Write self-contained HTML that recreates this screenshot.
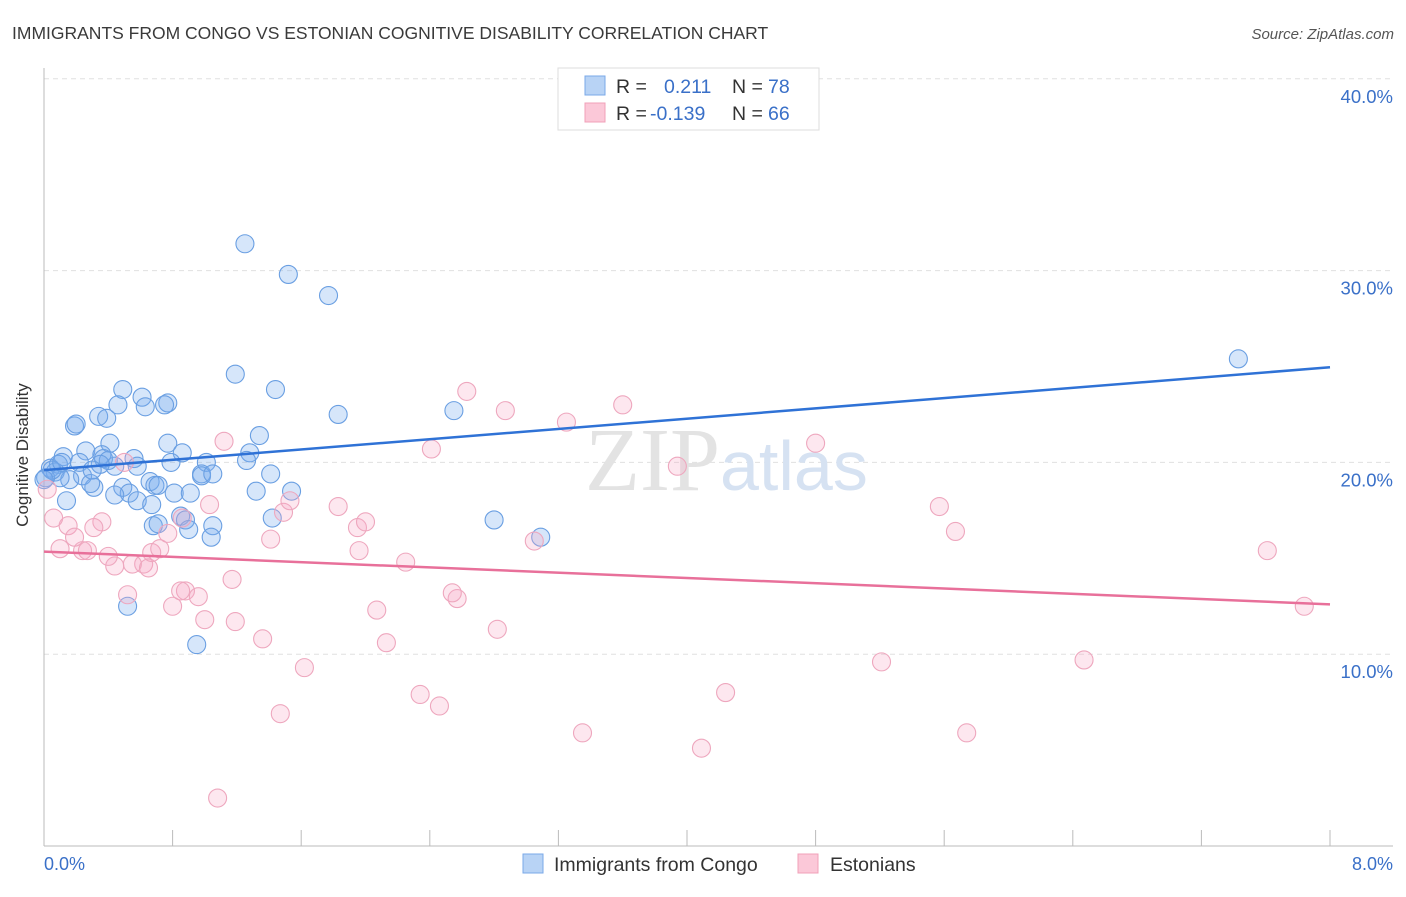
<!DOCTYPE html>
<html><head><meta charset="utf-8"><style>
body{margin:0;background:#fff;font-family:"Liberation Sans",sans-serif;}
</style></head><body>
<svg width="1406" height="892" xmlns="http://www.w3.org/2000/svg" style="font-family:'Liberation Sans',sans-serif">
<text x="12" y="39" font-size="17.5" fill="#3a3a3a">IMMIGRANTS FROM CONGO VS ESTONIAN COGNITIVE DISABILITY CORRELATION CHART</text>
<text x="1394" y="39" font-size="15" fill="#555" font-style="italic" text-anchor="end">Source: ZipAtlas.com</text>
<g id="grid"></g>
<text x="720" y="490" font-size="90" fill="#e3e3e3" text-anchor="end" font-family="Liberation Serif">ZIP</text>
<text x="720" y="490" font-size="70" fill="#d6e2f2">atlas</text>
<g id="pts"></g>
<g id="lines"></g>
<text x="28" y="455" font-size="17" fill="#333" text-anchor="middle" transform="rotate(-90 28 455)">Cognitive Disability</text>
<text x="44" y="870" font-size="18" fill="#3a70c8">0.0%</text>
<text x="1393" y="870" font-size="18" fill="#3a70c8" text-anchor="end">8.0%</text>
<g>
<rect x="558" y="68" width="261" height="62" fill="#fff" stroke="#ddd"/>
<rect x="585" y="76" width="20" height="19" fill="#b8d3f5" stroke="#7aa8e8"/>
<rect x="585" y="103" width="20" height="19" fill="#fbc8d8" stroke="#f0a0b8"/>
<text x="616" y="93" font-size="19.5" fill="#333">R =</text>
<text x="664" y="93" font-size="19.5" fill="#3a70c8">0.211</text>
<text x="732" y="93" font-size="19.5" fill="#333">N =</text>
<text x="768" y="93" font-size="19.5" fill="#3a70c8">78</text>
<text x="616" y="120" font-size="19.5" fill="#333">R =</text>
<text x="650" y="120" font-size="19.5" fill="#3a70c8">-0.139</text>
<text x="732" y="120" font-size="19.5" fill="#333">N =</text>
<text x="768" y="120" font-size="19.5" fill="#3a70c8">66</text>
</g>
<g>
<rect x="523" y="854" width="20" height="19" fill="#b8d3f5" stroke="#7aa8e8"/>
<text x="554" y="871" font-size="19.5" fill="#333">Immigrants from Congo</text>
<rect x="798" y="854" width="20" height="19" fill="#fbc8d8" stroke="#f0a0b8"/>
<text x="830" y="871" font-size="19.5" fill="#333">Estonians</text>
</g>
</svg>
<script>
const yTicks=[10,20,30,40];
const yTickLabels=["10.0%","20.0%","30.0%","40.0%"];
const blueX=[1.25,1.52,1.77,7.43,1.19,1.44,0.49,0.61,0.77,0.75,0.46,0.63,2.55,1.83,0.34,0.39,0.19,0.20,1.34,0.41,0.77,0.86,0.26,0.36,0.12,0.56,1.28,0.37,0.79,1.26,1.01,0.09,0.22,0.44,0.58,0.04,0.07,0.98,1.41,0.98,0.24,0.16,0.10,0.01,0.66,0.49,0.31,0.69,0.53,0.44,0.81,0.91,1.32,1.54,0.58,0.14,0.67,0.85,0.88,1.42,2.80,0.68,0.71,1.05,0.90,1.04,3.09,0.52,0.95,0.29,0.05,0.0,0.11,0.40,0.71,0.35,1.05,0.30];
const blueY=[31.4,29.8,28.7,25.4,24.6,23.8,23.8,23.4,23.1,23.0,23.0,22.9,22.7,22.5,22.4,22.3,21.9,22.0,21.4,21.0,21.0,20.5,20.6,20.4,20.3,20.2,20.5,20.2,20.0,20.1,20.0,19.9,20.0,19.8,19.8,19.7,19.5,19.4,19.4,19.3,19.3,19.1,19.2,19.2,19.0,18.7,18.7,18.8,18.4,18.3,18.4,18.4,18.5,18.5,18.0,18.0,17.8,17.2,17.0,17.1,17.0,16.7,16.8,16.7,16.5,16.1,16.1,12.5,10.5,18.9,19.6,19.1,20.0,20.1,18.8,19.9,19.4,19.6];
const pinkX=[1.08,1.47,2.46,2.34,3.35,4.09,4.24,5.74,5.21,6.47,1.62,2.13,1.36,1.19,1.00,0.80,2.07,2.82,2.57,2.54,0.88,0.85,0.96,0.52,1.17,0.62,0.55,0.65,0.44,0.40,0.24,0.10,0.27,0.67,0.72,1.96,2.25,3.05,1.41,0.36,0.31,0.15,0.19,0.06,0.02,1.03,1.49,1.53,1.83,1.95,2.00,5.57,5.67,7.61,7.84,3.94,4.80,2.41,3.25,3.60,2.87,2.63,1.12,0.50,0.77,0.86];
const pinkY=[2.5,6.9,7.3,7.9,5.9,5.1,8.0,5.9,9.6,9.7,9.3,10.6,10.8,11.7,11.8,12.5,12.3,11.3,12.9,13.2,13.3,13.3,13.0,13.1,13.9,14.7,14.7,14.5,14.6,15.1,15.4,15.5,15.4,15.3,15.5,15.4,14.8,15.9,16.0,16.9,16.6,16.7,16.1,17.1,18.6,17.8,17.4,18.0,17.7,16.6,16.9,17.7,16.4,15.4,12.5,19.8,21.0,20.7,22.1,23.0,22.7,23.7,21.1,20.0,16.3,17.1];
const blueTrend=[19.6,24.96];
const pinkTrend=[15.35,12.6];
const xMax=8;
const NS="http://www.w3.org/2000/svg";
const sx=v=>44+v*(1330-44)/8;
const sy=v=>846-v*19.18;
function mk(t,a,p){const e=document.createElementNS(NS,t);for(const k in a)e.setAttribute(k,a[k]);p.appendChild(e);return e;}
const grid=document.getElementById('grid');
yTicks.forEach((t,i)=>{
 const l=mk('line',{x1:44,x2:1393,y1:sy(t),y2:sy(t),stroke:'#e0e0e0','stroke-dasharray':'5,4'},grid);
 
 
 const tx=mk('text',{x:1393,y:sy(t)+24,'font-size':18.5,fill:'#3a70c8','text-anchor':'end'},grid);
 tx.textContent=yTickLabels[i];
 
 
});
const ax=mk('line',{x1:44,x2:44,y1:68,y2:846,stroke:'#bbb'},grid);


const bx=mk('line',{x1:44,x2:1393,y1:846,y2:846,stroke:'#bbb'},grid);


for(let i=0;i<=10;i++){
 const t=mk('line',{x1:sx(i*0.8),x2:sx(i*0.8),y1:830,y2:846,stroke:'#bbb'},grid);
 
 
}
const pts=document.getElementById('pts');
blueX.forEach((x,i)=>{
 const c=mk('circle',{cx:sx(x),cy:sy(blueY[i]),r:9,fill:'rgba(120,172,238,0.3)',stroke:'#6a9fe2','stroke-width':1.1},pts);
 
 
});
pinkX.forEach((x,i)=>{
 const c=mk('circle',{cx:sx(x),cy:sy(pinkY[i]),r:9,fill:'rgba(248,170,198,0.28)',stroke:'#eea7be','stroke-width':1.1},pts);
 
 
});
const lines=document.getElementById('lines');
const bl=mk('line',{x1:sx(0),x2:sx(xMax),y1:sy(blueTrend[0]),y2:sy(blueTrend[1]),stroke:'#2f72d6','stroke-width':2.5},lines);


const pl=mk('line',{x1:sx(0),x2:sx(xMax),y1:sy(pinkTrend[0]),y2:sy(pinkTrend[1]),stroke:'#e8709a','stroke-width':2.5},lines);


</script>
</body></html>
